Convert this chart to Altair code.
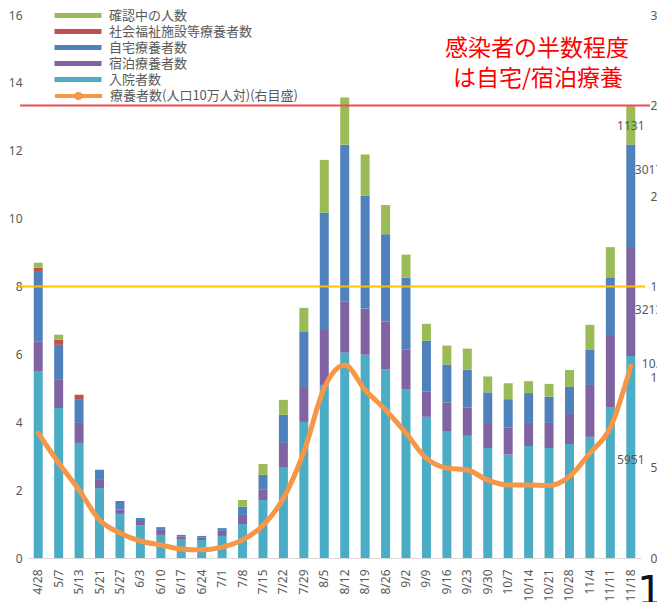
import altair as alt
import pandas as pd

dates = ["4/28", "5/7", "5/13", "5/21", "5/27", "6/3", "6/10", "6/17", "6/24", "7/1",
         "7/8", "7/15", "7/22", "7/29", "8/5", "8/12", "8/19", "8/26", "9/2", "9/9",
         "9/16", "9/23", "9/30", "10/7", "10/14", "10/21", "10/28", "11/4", "11/11", "11/18"]

# 千人 (left axis)
hospital = [5.49, 4.42, 3.39, 2.06, 1.30, 0.97, 0.68, 0.56, 0.53, 0.65,
            1.00, 1.71, 2.68, 4.01, 5.10, 6.05, 5.99, 5.55, 4.96, 4.16,
            3.72, 3.60, 3.24, 3.05, 3.30, 3.24, 3.36, 3.57, 4.45, 5.951]
hotel = [0.88, 0.83, 0.59, 0.24, 0.13, 0.12, 0.15, 0.08, 0.08, 0.15,
         0.27, 0.30, 0.71, 1.00, 1.62, 1.50, 1.36, 1.42, 1.18, 0.74,
         0.86, 0.83, 0.74, 0.80, 0.68, 0.74, 0.91, 1.53, 2.12, 3.213]
home = [2.06, 1.03, 0.68, 0.30, 0.25, 0.09, 0.08, 0.04, 0.04, 0.08,
        0.24, 0.44, 0.83, 1.65, 3.45, 4.63, 3.33, 2.57, 2.12, 1.50,
        1.12, 1.12, 0.90, 0.83, 0.88, 0.77, 0.77, 1.03, 1.68, 3.017]
welfare = [0.12, 0.15, 0.15, 0, 0, 0, 0, 0, 0, 0,
           0, 0, 0, 0, 0, 0, 0, 0, 0, 0,
           0, 0, 0, 0, 0, 0, 0, 0, 0, 0]
confirming = [0.15, 0.15, 0, 0, 0, 0, 0, 0, 0, 0,
              0.20, 0.32, 0.44, 0.71, 1.56, 1.39, 1.21, 0.86, 0.68, 0.50,
              0.56, 0.62, 0.47, 0.47, 0.35, 0.38, 0.50, 0.74, 0.91, 1.131]
# 人口10万人対 (right axis)
rate = [6.9, 5.25, 3.75, 2.1, 1.38, 0.94, 0.72, 0.5, 0.45, 0.6,
        1.0, 1.8, 3.3, 5.86, 9.4, 10.66, 9.28, 8.18, 6.9, 5.5,
        4.97, 4.86, 4.3, 4.03, 4.03, 4.0, 4.5, 5.8, 7.2, 10.6]

legend_names = ["確認中の人数", "社会福祉施設等療養者数", "自宅療養者数", "宿泊療養者数", "入院者数"]
legend_colors = ["#9bbb59", "#c0504d", "#4f81bd", "#8064a2", "#4bacc6"]
line_name = "療養者数(人口10万人対)(右目盛)"
levels = [25, 15]
left_ticks = [0, 2, 4, 6, 8, 10, 12, 14, 16]
right_ticks = [0, 5, 10, 15, 20, 25, 30]
note1 = "感染者の半数程度"
note2 = "は自宅/宿泊療養"

stack = [("入院者数", hospital), ("宿泊療養者数", hotel), ("自宅療養者数", home),
         ("社会福祉施設等療養者数", welfare), ("確認中の人数", confirming)]

rows = []
for k, (name, vals) in enumerate(stack):
    for d, v in zip(dates, vals):
        rows.append({"date": d, "cat": name, "v": v, "ord": k})
bars_df = pd.DataFrame(rows)
line_df = pd.DataFrame({"date": dates, "rate": rate, "series": line_name})

# labels on last bar
lab_rows = []
base = 0.0
for name, vals in stack:
    v = vals[-1]
    if v > 0:
        lab_rows.append({"date": dates[-1], "cat": name, "mid": base + v / 2, "txt": str(round(v * 1000))})
    base += v
lab_df = pd.DataFrame(lab_rows)

W, H = 613, 543
GRAY = "#595959"

x_axis = alt.Axis(labelAngle=-90, labelPadding=11, labelFontSize=12, labelColor=GRAY,
                  labelFont="Noto Sans", ticks=False, domainColor="#d9d9d9", grid=False)
left_axis = alt.Axis(values=left_ticks, labelPadding=6, ticks=False, domain=False, grid=False,
                     labelFontSize=12, labelColor=GRAY, labelFont="Noto Sans")
right_axis = alt.Axis(orient="right", values=right_ticks, labelPadding=9, ticks=False, domain=False,
                      grid=False, labelFontSize=12, labelColor=GRAY, labelFont="Noto Sans")
lscale = alt.Scale(domain=[0, 16], nice=False)
rscale = alt.Scale(domain=[0, 30], nice=False)


def xenc():
    return alt.X("date:N", sort=dates, title=None,
                 scale=alt.Scale(paddingInner=0.56, paddingOuter=0.28), axis=x_axis)


leg_common = dict(orient="none", title=None, labelFont="Noto Sans CJK JP", labelFontSize=13,
                  labelColor=GRAY, labelLimit=600, symbolSize=100, rowPadding=2, padding=0,
                  labelOffset=6, legendX=62)

bars = alt.Chart(bars_df).mark_bar().encode(
    x=xenc(),
    y=alt.Y("sum(v):Q", title=None, stack="zero", scale=lscale, axis=left_axis),
    color=alt.Color("cat:N", scale=alt.Scale(domain=legend_names, range=legend_colors),
                    legend=alt.Legend(legendY=-6, symbolType="M-8.4,-0.5H1V0.5H-8.4Z",
                                      symbolStrokeWidth=0, symbolOpacity=1, **leg_common)),
    order=alt.Order("ord:Q", sort="ascending"),
)


def bar_label(cat, align, dx, dy):
    return alt.Chart(lab_df).transform_filter(alt.datum.cat == cat).mark_text(
        align=align, baseline="middle", dx=dx, dy=dy, fontSize=12, color=GRAY, font="Noto Sans"
    ).encode(x=xenc(), y=alt.Y("mid:Q", title=None, scale=lscale, axis=left_axis), text="txt:N")


left = alt.layer(
    bars,
    bar_label("確認中の人数", "center", 0, 1),
    bar_label("自宅療養者数", "left", 4, -26),
    bar_label("宿泊療養者数", "left", 4, 8),
    bar_label("入院者数", "center", 0, 3),
)

rule_df = pd.DataFrame({"level": levels})
red_rule = alt.Chart(rule_df).transform_filter(alt.datum.level == levels[0]).mark_rule(
    color="#ef4b55", strokeWidth=2).encode(
    x=alt.value(-8), x2=alt.value(622),
    y=alt.Y("level:Q", title=None, scale=rscale, axis=right_axis))
yel_rule = alt.Chart(rule_df).transform_filter(alt.datum.level == levels[1]).mark_rule(
    color="#ffc000", strokeWidth=2).encode(
    x=alt.value(-10), x2=alt.value(617),
    y=alt.Y("level:Q", title=None, scale=rscale, axis=right_axis))

line = alt.Chart(line_df).mark_line(strokeWidth=5, interpolate="monotone", strokeCap="round").encode(
    x=xenc(),
    y=alt.Y("rate:Q", title=None, scale=rscale, axis=right_axis),
    stroke=alt.Stroke("series:N", scale=alt.Scale(domain=[line_name], range=["#f79646"]),
                      legend=alt.Legend(legendY=74,
                                        symbolType="M-8.4,0H1M-4.1,0A0.4,0.4 0 1,0 -3.3,0A0.4,0.4 0 1,0 -4.1,0",
                                        symbolStrokeWidth=4, symbolOpacity=1, **leg_common)),
)
line_label = alt.Chart(line_df).transform_filter(alt.datum.date == dates[-1]).mark_text(
    align="left", baseline="middle", dx=11, dy=-2, fontSize=12, color=GRAY, font="Noto Sans"
).encode(x=xenc(), y=alt.Y("rate:Q", title=None, scale=rscale, axis=right_axis),
         text=alt.Text("rate:Q", format=".1f"))

right = alt.layer(red_rule, yel_rule, line, line_label)

note_df = pd.DataFrame({"t1": [note1], "t2": [note2], "p": ["1"]})
n1 = alt.Chart(note_df).mark_text(align="center", baseline="middle", fontSize=23, color="#ff0000",
                                  font="Noto Sans CJK JP").encode(
    x=alt.value(509), y=alt.value(34), text="t1:N")
n2 = alt.Chart(note_df).mark_text(align="center", baseline="middle", fontSize=23, color="#ff0000",
                                  font="Noto Sans CJK JP").encode(
    x=alt.value(510), y=alt.value(64), text="t2:N")
page_no = alt.Chart(note_df).mark_text(align="center", baseline="alphabetic", fontSize=40, color="#111111",
                                       font="DejaVu Sans").encode(
    x=alt.value(622), y=alt.value(590), text="p:N")

chart = alt.layer(left, right, n1, n2, page_no).resolve_scale(
    y="independent"
).properties(
    width=W, height=H,
    padding={"left": 20, "top": 7, "right": 16, "bottom": 44},
    autosize=alt.AutoSizeParams(type="none"),
    background="white",
).configure_view(stroke=None)

chart.save("out.html", embed_options={"renderer": "svg", "actions": False})
